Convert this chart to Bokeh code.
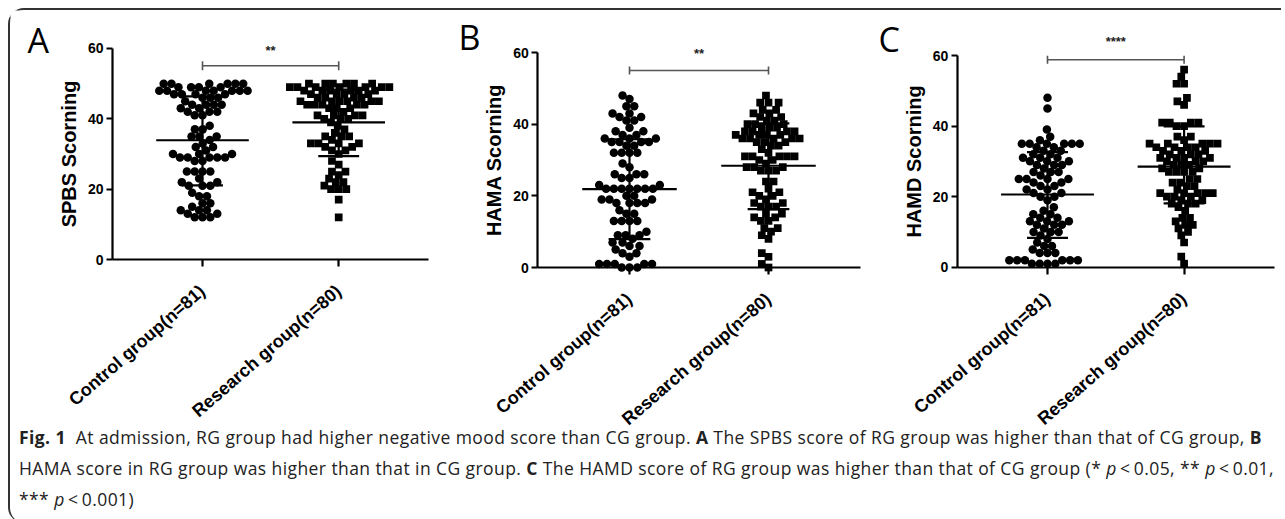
import numpy as np
from bokeh.plotting import figure
from bokeh.models import Range1d, FixedTicker, Label, Div, ColumnDataSource
from bokeh.layouts import row, column
from bokeh.embed import file_html
from bokeh.resources import INLINE

# ---------------- data ----------------
categories = ["Control group(n=81)", "Research group(n=80)"]
panel_letters = ["A", "B", "C"]
y_titles = ["SPBS Scorning", "HAMA Scorning", "HAMD Scorning"]
y_ticks = [0, 20, 40, 60]
sig_labels = ["**", "**", "****"]

spbs_control = [50, 50, 50, 50, 50, 50, 49, 49, 49, 49, 48, 48, 48, 48, 48, 48, 48,
                47, 47, 47, 47, 46, 46, 46, 45, 44, 44, 44, 44, 43, 43, 42, 42, 42,
                41, 41, 38, 37, 37, 35, 35, 35, 34, 33, 32, 32, 31, 30, 30, 30,
                29, 29, 29, 29, 29, 28, 28, 25, 25, 25, 25, 23, 22, 22, 21, 21, 21,
                19, 18, 18, 16, 16, 15, 14, 14, 14, 13, 13, 12, 12, 12]
spbs_research = [50, 50, 50, 50, 50, 50, 49, 49, 49, 49, 49, 49, 49, 48, 48, 48, 48, 48, 48,
                 47, 47, 47, 47, 46, 46, 46, 46, 45, 45, 45, 45, 45, 45, 44, 44, 44, 44, 44,
                 43, 43, 43, 42, 41, 41, 41, 41, 40, 40, 40, 39, 38, 37, 36, 35, 35, 35,
                 34, 33, 33, 33, 33, 32, 32, 31, 31, 30, 28, 27, 25, 25, 24, 23, 22, 22,
                 21, 20, 20, 20, 17, 12]
hama_control = [48, 47, 45, 45, 43, 43, 42, 42, 41, 41, 39, 38, 38, 37, 37, 36, 36, 36,
                35, 35, 35, 35, 34, 34, 32, 32, 32, 32, 29, 28, 26, 26, 26, 25, 25, 23, 23,
                22, 22, 22, 22, 22, 22, 22, 20, 20, 19, 19, 19, 18, 18, 18, 18, 16, 15, 15,
                13, 13, 13, 13, 10, 9, 9, 9, 8, 7, 7, 6, 6, 5, 4, 4, 3, 1, 1, 1, 1, 1, 0, 0, 0]
hama_research = [48, 46, 46, 46, 44, 44, 43, 43, 42, 42, 41, 41, 40, 40, 40, 39, 39, 39,
                 38, 38, 38, 38, 37, 37, 37, 37, 36, 36, 36, 36, 36, 35, 35, 35, 34, 34, 33, 32,
                 31, 31, 31, 31, 31, 30, 30, 29, 28, 28, 28, 27, 27, 27, 24, 24, 22, 21, 21,
                 20, 20, 19, 18, 18, 17, 17, 17, 15, 15, 14, 14, 13, 13, 11, 11, 10, 9, 8, 4, 3, 1, 0]
hamd_control = [48, 45, 39, 37, 36, 35, 35, 35, 35, 35, 35, 34, 34, 33, 33, 32, 32, 31, 31, 31,
                30, 30, 30, 29, 29, 29, 28, 27, 27, 27, 26, 25, 25, 25, 25, 24, 24, 23, 23,
                22, 22, 21, 21, 20, 20, 19, 17, 16, 15, 15, 14, 14, 13, 13, 13, 12, 12, 12, 11,
                10, 10, 10, 9, 8, 7, 6, 6, 5, 4, 4, 4, 2, 2, 2, 2, 2, 2, 1, 1, 1, 1]
hamd_research = [56, 54, 52, 52, 48, 47, 46, 41, 41, 41, 41, 40, 40, 37, 37, 36, 35, 35, 35, 35, 35,
                 34, 34, 34, 34, 33, 33, 33, 32, 32, 32, 31, 31, 31, 31, 30, 30, 30, 29, 29, 29,
                 28, 28, 27, 27, 27, 27, 25, 25, 24, 24, 23, 23, 22, 21, 21, 21, 21, 21, 20, 20, 20,
                 19, 19, 18, 18, 18, 17, 16, 14, 14, 13, 12, 12, 11, 10, 9, 7, 3, 1]

# mean and SD limits: [control, research]
spbs_mean = [33.9, 39.0]
spbs_sd_low = [21.1, 29.4]
spbs_sd_high = [46.4, 48.3]
hama_mean = [21.9, 28.4]
hama_sd_low = [7.9, 16.3]
hama_sd_high = [35.8, 40.2]
hamd_mean = [20.6, 28.5]
hamd_sd_low = [8.3, 18.1]
hamd_sd_high = [32.6, 39.9]

# significance bracket heights
sig_bar_y = [55.1, 55.0, 58.8]
sig_text_y = [59.5, 59.7, 64.1]

# ---------------- layout helpers ----------------
def swarm(vals, px_per_unit, d):
    vals = np.asarray(vals, dtype=float)
    order = np.argsort(vals, kind="stable")
    placed = []
    xs = np.zeros(len(vals))
    for i in order:
        y = vals[i] * px_per_unit
        iv = []
        for (px, py) in placed:
            dy = abs(py - y)
            if dy < d:
                w = np.sqrt(d * d - dy * dy)
                iv.append((px - w, px + w))
        cands = [0.0] + [a for a, b in iv] + [b for a, b in iv]
        cands.sort(key=lambda c: (abs(c), c))
        for c in cands:
            if all(not (a + 1e-7 < c < b - 1e-7) for a, b in iv):
                xs[i] = c
                break
        placed.append((xs[i], y))
    return xs

# page-pixel geometry of each panel (figure edges, category-0 position, scales)
TOP, BOTTOM = 10, 428
cfg = [
    dict(left=10, right=450, cat0=202.0, unit=136.2, y0=259.0, ypu=3.517, letter=(27, 39), cap=1.3),
    dict(left=450, right=870, cat0=629.0, unit=139.0, y0=267.0, ypu=3.583, letter=(458, 36), cap=1.1),
    dict(left=870, right=1281, cat0=1047.0, unit=136.6, y0=266.7, ypu=3.528, letter=(878, 38), cap=1.1),
]
X_AXIS_BOUNDS = (-0.66, 1.66)

datasets = [
    (spbs_control, spbs_research, spbs_mean, spbs_sd_low, spbs_sd_high),
    (hama_control, hama_research, hama_mean, hama_sd_low, hama_sd_high),
    (hamd_control, hamd_research, hamd_mean, hamd_sd_low, hamd_sd_high),
]

FONT = "Liberation Sans"
figs = []
for k in range(3):
    c = cfg[k]
    ctrl, res, mean, lo, hi = datasets[k]
    xr = Range1d((c["left"] - c["cat0"]) / c["unit"], (c["right"] - c["cat0"]) / c["unit"])
    yr = Range1d((c["y0"] - BOTTOM) / c["ypu"], (c["y0"] - TOP) / c["ypu"])
    p = figure(width=c["right"] - c["left"], height=BOTTOM - TOP,
               x_range=xr, y_range=yr, title=None,
               output_backend="svg", toolbar_location=None, min_border=0,
               background_fill_color="white", border_fill_color="white",
               outline_line_color=None)
    p.grid.visible = False
    xpx = c["unit"]
    ypx = c["ypu"]

    # points
    cx = 0 + swarm(ctrl, ypx, 7.8) / xpx
    rx = 1 + swarm(res, ypx, 7.6) / xpx
    p.scatter(cx, ctrl, marker="circle", size=8.5, fill_color="black",
              line_color="black", line_width=0)
    p.scatter(rx, res, marker="square", size=7.7, fill_color="black",
              line_color="black", line_width=0)

    # mean and SD
    xs = [0, 1]
    src = ColumnDataSource(dict(x=xs, mean=mean, lo=lo, hi=hi,
                                x0=[x - 0.34 for x in xs], x1=[x + 0.34 for x in xs],
                                c0=[x - 0.15 for x in xs], c1=[x + 0.15 for x in xs]))
    p.segment(x0="x0", x1="x1", y0="mean", y1="mean", source=src, line_color="black", line_width=2.2)
    p.segment(x0="x", x1="x", y0="lo", y1="hi", source=src, line_color="black", line_width=2.2)
    p.segment(x0="c0", x1="c1", y0="lo", y1="lo", source=src, line_color="black", line_width=2.2)
    p.segment(x0="c0", x1="c1", y0="hi", y1="hi", source=src, line_color="black", line_width=2.2)

    # significance bracket
    by = sig_bar_y[k]
    p.segment(x0=[0, 0, 1], x1=[1, 0, 1], y0=[by, by - c["cap"], by - c["cap"]],
              y1=[by, by + c["cap"], by + c["cap"]], line_color="#555555", line_width=1.6)
    p.add_layout(Label(x=0.5, y=sig_text_y[k], text=sig_labels[k], text_align="center",
                       text_baseline="middle", text_font=FONT, text_font_style="bold",
                       text_font_size="13px", text_color="#222222"))
    # panel letter
    lx = (c["letter"][0] - c["cat0"]) / c["unit"]
    ly = (c["y0"] - c["letter"][1]) / c["ypu"]
    p.add_layout(Label(x=lx, y=ly, text=panel_letters[k],
                       text_align="left", text_baseline="alphabetic", text_font="Open Sans",
                       text_font_size="34px", text_color="black"))

    # axes (fixed at the data origin, drawn inside the full-size frame)
    xa = p.xaxis[0]
    xa.fixed_location = 0
    xa.bounds = X_AXIS_BOUNDS
    xa.ticker = FixedTicker(ticks=[0, 1])
    xa.major_label_overrides = {0: categories[0], 1: categories[1]}
    xa.major_label_orientation = np.deg2rad(41)
    xa.minor_tick_line_color = None
    xa.major_tick_in = 0
    xa.major_tick_out = 7
    xa.major_tick_line_width = 2.2
    xa.axis_line_width = 2.2
    xa.major_label_text_font = FONT
    xa.major_label_text_font_style = "bold"
    xa.major_label_text_font_size = "18px"
    xa.major_label_text_color = "black"
    xa.major_label_standoff = 22

    ya = p.yaxis[0]
    ya.fixed_location = X_AXIS_BOUNDS[0]
    ya.bounds = (0, 60)
    ya.ticker = FixedTicker(ticks=y_ticks)
    ya.minor_tick_line_color = None
    ya.major_tick_in = 0
    ya.major_tick_out = 6
    ya.major_tick_line_width = 2.2
    ya.axis_line_width = 2.2
    ya.major_label_text_font = FONT
    ya.major_label_text_font_style = "bold"
    ya.major_label_text_font_size = "14px"
    ya.major_label_text_color = "black"
    ya.major_label_standoff = 3
    ya.axis_label = y_titles[k]
    ya.axis_label_text_font = FONT
    ya.axis_label_text_font_style = "bold"
    ya.axis_label_text_font_size = "20px"
    ya.axis_label_text_color = "black"
    ya.axis_label_standoff = 5
    figs.append(p)

caption_html = (
    "<b>Fig. 1</b>&nbsp;&nbsp;At admission, RG group had higher negative mood score than CG group. "
    "<b>A</b> The SPBS score of RG group was higher than that of CG group, <b>B</b><br>"
    "HAMA score in RG group was higher than that in CG group. <b>C</b> The HAMD score of RG group "
    "was higher than that of CG group (* <i>p</i>&thinsp;&lt;&thinsp;0.05, ** <i>p</i>&thinsp;&lt;&thinsp;0.01,<br>"
    "*** <i>p</i>&thinsp;&lt;&thinsp;0.001)"
)
cap = Div(text=caption_html, width=1260, height=85,
          styles={"font-family": "Open Sans", "font-size": "17.5px", "line-height": "31px",
                  "letter-spacing": "0.42px", "transform": "translateY(-11px)",
                  "color": "#222222", "white-space": "nowrap", "padding-left": "4px"})

layout = column(row(*figs), cap,
                styles={"margin-left": "8px", "margin-top": "8px",
                        "border-top": "2px solid #333333", "border-left": "2px solid #333333",
                        "border-top-left-radius": "16px", "border-bottom-left-radius": "16px",
                        "background-color": "white"})

open("out.html", "w").write(file_html(layout, INLINE))
